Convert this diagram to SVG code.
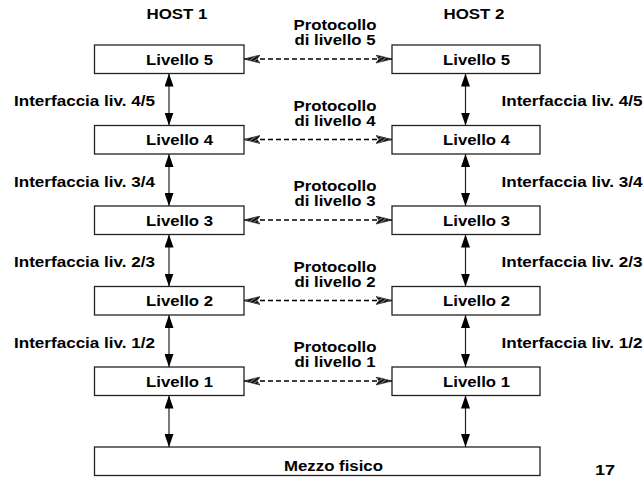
<svg xmlns="http://www.w3.org/2000/svg" width="643" height="477" viewBox="0 0 643 477">
<style>
text{font-family:"Liberation Sans",Arial,sans-serif;font-weight:bold;font-size:14px;fill:#000}
.c{text-anchor:middle}
.box{fill:#fff;stroke:#222;stroke-width:1.3}
.v{stroke:#222;stroke-width:1.2;fill:none;marker-start:url(#ah);marker-end:url(#ah)}
.p{stroke:#000;stroke-width:1.6;stroke-dasharray:5 3;fill:none;marker-start:url(#hh);marker-end:url(#hh)}
</style>
<defs>
<marker id="ah" viewBox="0 0 13 9" refX="13" refY="4.5" markerWidth="13" markerHeight="9" markerUnits="userSpaceOnUse" orient="auto-start-reverse">
<path d="M0,0 L13,4.5 L0,9 z" fill="#000"/>
</marker>
<pattern id="hatch" width="3" height="3" patternUnits="userSpaceOnUse" patternTransform="rotate(55)">
<rect width="3" height="3" fill="#888"/>
<rect width="1.8" height="3" fill="#000"/>
</pattern>
<marker id="hh" viewBox="0 0 16 9" refX="16" refY="4.5" markerWidth="16" markerHeight="9" markerUnits="userSpaceOnUse" orient="auto-start-reverse">
<path d="M0,0.5 L16,4.5 L0,8.5 L3,4.5 z" fill="url(#hatch)" stroke="#222" stroke-width="0.7"/>
</marker>
</defs>

<text class="c" x="177" y="19" textLength="61" lengthAdjust="spacingAndGlyphs">HOST 1</text>
<text class="c" x="474" y="19" textLength="61" lengthAdjust="spacingAndGlyphs">HOST 2</text>

<g id="connectors">
<line class="v" x1="169" y1="73.5" x2="169" y2="125.5"/>
<line class="v" x1="169" y1="154" x2="169" y2="206"/>
<line class="v" x1="169" y1="234.5" x2="169" y2="286.5"/>
<line class="v" x1="169" y1="315" x2="169" y2="367"/>
<line class="v" x1="169" y1="395.5" x2="169" y2="447"/>
<line class="v" x1="465.5" y1="73.5" x2="465.5" y2="125.5"/>
<line class="v" x1="465.5" y1="154" x2="465.5" y2="206"/>
<line class="v" x1="465.5" y1="234.5" x2="465.5" y2="286.5"/>
<line class="v" x1="465.5" y1="315" x2="465.5" y2="367"/>
<line class="v" x1="465.5" y1="395.5" x2="465.5" y2="447"/>
<line class="p" x1="244" y1="59" x2="392" y2="59"/>
<line class="p" x1="244" y1="139.5" x2="392" y2="139.5"/>
<line class="p" x1="244" y1="220" x2="392" y2="220"/>
<line class="p" x1="244" y1="300.5" x2="392" y2="300.5"/>
<line class="p" x1="244" y1="381" x2="392" y2="381"/>
</g>

<g id="labels">
<text x="14" y="106" textLength="141" lengthAdjust="spacingAndGlyphs">Interfaccia liv. 4/5</text>
<text x="14" y="186.5" textLength="141" lengthAdjust="spacingAndGlyphs">Interfaccia liv. 3/4</text>
<text x="14" y="267" textLength="141" lengthAdjust="spacingAndGlyphs">Interfaccia liv. 2/3</text>
<text x="14" y="347.5" textLength="141" lengthAdjust="spacingAndGlyphs">Interfaccia liv. 1/2</text>
<text x="501.5" y="106" textLength="141" lengthAdjust="spacingAndGlyphs">Interfaccia liv. 4/5</text>
<text x="501.5" y="186.5" textLength="141" lengthAdjust="spacingAndGlyphs">Interfaccia liv. 3/4</text>
<text x="501.5" y="267" textLength="141" lengthAdjust="spacingAndGlyphs">Interfaccia liv. 2/3</text>
<text x="501.5" y="347.5" textLength="141" lengthAdjust="spacingAndGlyphs">Interfaccia liv. 1/2</text>

<text class="c" x="335" y="30" textLength="83" lengthAdjust="spacingAndGlyphs">Protocollo</text>
<text class="c" x="335" y="45" textLength="81" lengthAdjust="spacingAndGlyphs">di livello 5</text>
<text class="c" x="335" y="110.5" textLength="83" lengthAdjust="spacingAndGlyphs">Protocollo</text>
<text class="c" x="335" y="125.5" textLength="81" lengthAdjust="spacingAndGlyphs">di livello 4</text>
<text class="c" x="335" y="191" textLength="83" lengthAdjust="spacingAndGlyphs">Protocollo</text>
<text class="c" x="335" y="206" textLength="81" lengthAdjust="spacingAndGlyphs">di livello 3</text>
<text class="c" x="335" y="271.5" textLength="83" lengthAdjust="spacingAndGlyphs">Protocollo</text>
<text class="c" x="335" y="286.5" textLength="81" lengthAdjust="spacingAndGlyphs">di livello 2</text>
<text class="c" x="335" y="352" textLength="83" lengthAdjust="spacingAndGlyphs">Protocollo</text>
<text class="c" x="335" y="367" textLength="81" lengthAdjust="spacingAndGlyphs">di livello 1</text>

<text class="c" x="605" y="475" textLength="20" lengthAdjust="spacingAndGlyphs">17</text>
</g>

<g id="h1-l5"><rect class="box" x="94.5" y="45" width="149.5" height="28.5"/><text class="c" x="179.5" y="64.5" textLength="67" lengthAdjust="spacingAndGlyphs">Livello 5</text></g>
<g id="h1-l4"><rect class="box" x="94.5" y="125.5" width="149.5" height="28.5"/><text class="c" x="179.5" y="145" textLength="67" lengthAdjust="spacingAndGlyphs">Livello 4</text></g>
<g id="h1-l3"><rect class="box" x="94.5" y="206" width="149.5" height="28.5"/><text class="c" x="179.5" y="225.5" textLength="67" lengthAdjust="spacingAndGlyphs">Livello 3</text></g>
<g id="h1-l2"><rect class="box" x="94.5" y="286.5" width="149.5" height="28.5"/><text class="c" x="179.5" y="306" textLength="67" lengthAdjust="spacingAndGlyphs">Livello 2</text></g>
<g id="h1-l1"><rect class="box" x="94.5" y="367" width="149.5" height="28.5"/><text class="c" x="179.5" y="386.5" textLength="67" lengthAdjust="spacingAndGlyphs">Livello 1</text></g>

<g id="h2-l5"><rect class="box" x="392" y="45" width="148" height="28.5"/><text class="c" x="476.5" y="64.5" textLength="67" lengthAdjust="spacingAndGlyphs">Livello 5</text></g>
<g id="h2-l4"><rect class="box" x="392" y="125.5" width="148" height="28.5"/><text class="c" x="476.5" y="145" textLength="67" lengthAdjust="spacingAndGlyphs">Livello 4</text></g>
<g id="h2-l3"><rect class="box" x="392" y="206" width="148" height="28.5"/><text class="c" x="476.5" y="225.5" textLength="67" lengthAdjust="spacingAndGlyphs">Livello 3</text></g>
<g id="h2-l2"><rect class="box" x="392" y="286.5" width="148" height="28.5"/><text class="c" x="476.5" y="306" textLength="67" lengthAdjust="spacingAndGlyphs">Livello 2</text></g>
<g id="h2-l1"><rect class="box" x="392" y="367" width="148" height="28.5"/><text class="c" x="476.5" y="386.5" textLength="67" lengthAdjust="spacingAndGlyphs">Livello 1</text></g>

<g id="mezzo"><rect class="box" x="94.5" y="447" width="445.5" height="28.5"/><text class="c" x="333.5" y="471" textLength="99" lengthAdjust="spacingAndGlyphs">Mezzo fisico</text></g>
</svg>
